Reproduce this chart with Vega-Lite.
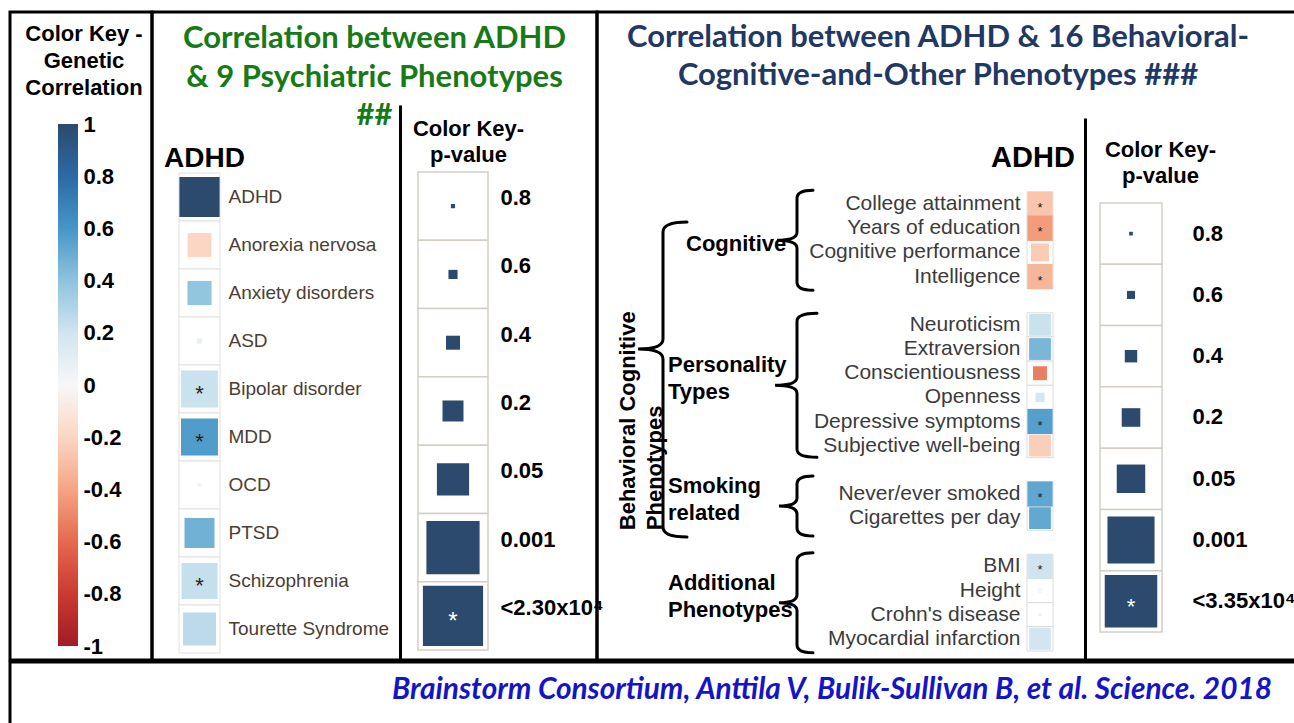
{
  "$schema": "https://vega.github.io/schema/vega-lite/v6.json",
  "padding": {"left": 8, "top": 10, "right": 0, "bottom": 0},
  "background": "white",
  "spacing": -3,
  "bounds": "full",
  "datasets": {
    "ckey": [{"low": -1, "high": 1}],
    "psych": [
      {"trait": "ADHD", "phenotype": "ADHD", "rg": 1, "p": 0, "sig": ""},
      {"trait": "ADHD", "phenotype": "Anorexia nervosa", "rg": -0.2, "p": 0.033, "sig": ""},
      {"trait": "ADHD", "phenotype": "Anxiety disorders", "rg": 0.39, "p": 0.032, "sig": ""},
      {"trait": "ADHD", "phenotype": "ASD", "rg": 0.08, "p": 0.6, "sig": ""},
      {"trait": "ADHD", "phenotype": "Bipolar disorder", "rg": 0.22, "p": 0.00014, "sig": "*"},
      {"trait": "ADHD", "phenotype": "MDD", "rg": 0.57, "p": 0.00014, "sig": "*"},
      {"trait": "ADHD", "phenotype": "OCD", "rg": 0.03, "p": 0.71, "sig": ""},
      {"trait": "ADHD", "phenotype": "PTSD", "rg": 0.48, "p": 0.0068, "sig": ""},
      {"trait": "ADHD", "phenotype": "Schizophrenia", "rg": 0.23, "p": 0.00019, "sig": "*"},
      {"trait": "ADHD", "phenotype": "Tourette Syndrome", "rg": 0.26, "p": 0.00067, "sig": ""}
    ],
    "behav": [
      {"trait": "ADHD", "phenotype": "College attainment", "category": "Cognitive", "rg": -0.27, "p": 0.00002, "sig": "*"},
      {"trait": "ADHD", "phenotype": "Years of education", "category": "Cognitive", "rg": -0.43, "p": 0.00001, "sig": "*"},
      {"trait": "ADHD", "phenotype": "Cognitive performance", "category": "Cognitive", "rg": -0.24, "p": 0.014, "sig": ""},
      {"trait": "ADHD", "phenotype": "Intelligence", "category": "Cognitive", "rg": -0.33, "p": 0.00002, "sig": "*"},
      {"trait": "ADHD", "phenotype": "Neuroticism", "category": "Personality Types", "rg": 0.22, "p": 0.0004, "sig": ""},
      {"trait": "ADHD", "phenotype": "Extraversion", "category": "Personality Types", "rg": 0.46, "p": 0.0004, "sig": ""},
      {"trait": "ADHD", "phenotype": "Conscientiousness", "category": "Personality Types", "rg": -0.53, "p": 0.04, "sig": ""},
      {"trait": "ADHD", "phenotype": "Openness", "category": "Personality Types", "rg": 0.18, "p": 0.16, "sig": ""},
      {"trait": "ADHD", "phenotype": "Depressive symptoms", "category": "Personality Types", "rg": 0.56, "p": 0.00002, "sig": "*"},
      {"trait": "ADHD", "phenotype": "Subjective well-being", "category": "Personality Types", "rg": -0.23, "p": 0.0004, "sig": ""},
      {"trait": "ADHD", "phenotype": "Never/ever smoked", "category": "Smoking related", "rg": 0.53, "p": 0.00002, "sig": "*"},
      {"trait": "ADHD", "phenotype": "Cigarettes per day", "category": "Smoking related", "rg": 0.52, "p": 0.0004, "sig": ""},
      {"trait": "ADHD", "phenotype": "BMI", "category": "Additional Phenotypes", "rg": 0.2, "p": 0.00002, "sig": "*"},
      {"trait": "ADHD", "phenotype": "Height", "category": "Additional Phenotypes", "rg": 0.02, "p": 0.45, "sig": ""},
      {"trait": "ADHD", "phenotype": "Crohn's disease", "category": "Additional Phenotypes", "rg": 0.05, "p": 0.6, "sig": ""},
      {"trait": "ADHD", "phenotype": "Myocardial infarction", "category": "Additional Phenotypes", "rg": 0.19, "p": 0.0004, "sig": ""}
    ],
    "groups": [
      {"group": "Cognitive", "label": ["Cognitive"], "level": "inner", "mid": "Years of education"},
      {"group": "Personality Types", "label": ["Personality", "Types"], "level": "inner", "mid": "Conscientiousness"},
      {"group": "Smoking related", "label": ["Smoking", "related"], "level": "inner", "mid": "Never/ever smoked"},
      {"group": "Additional Phenotypes", "label": ["Additional", "Phenotypes"], "level": "inner", "mid": "Height"}
    ],
    "outer": [
      {"group": "Behavioral Cognitive Phenotypes", "label": ["Behavioral Cognitive", "Phenotypes"], "level": "outer", "notch": "Extraversion", "end": "Cigarettes per day"}
    ],
    "pkeyB": [
      {"key": "p-value", "label": "0.8", "p": 0.8, "sig": ""},
      {"key": "p-value", "label": "0.6", "p": 0.6, "sig": ""},
      {"key": "p-value", "label": "0.4", "p": 0.4, "sig": ""},
      {"key": "p-value", "label": "0.2", "p": 0.2, "sig": ""},
      {"key": "p-value", "label": "0.05", "p": 0.05, "sig": ""},
      {"key": "p-value", "label": "0.001", "p": 0.001, "sig": ""},
      {"key": "p-value", "label": "<2.30x10⁴", "p": 0.00023, "sig": "*"}
    ],
    "pkeyC": [
      {"key": "p-value", "label": "0.8", "p": 0.8, "sig": ""},
      {"key": "p-value", "label": "0.6", "p": 0.6, "sig": ""},
      {"key": "p-value", "label": "0.4", "p": 0.4, "sig": ""},
      {"key": "p-value", "label": "0.2", "p": 0.2, "sig": ""},
      {"key": "p-value", "label": "0.05", "p": 0.05, "sig": ""},
      {"key": "p-value", "label": "0.001", "p": 0.001, "sig": ""},
      {"key": "p-value", "label": "<3.35x10⁴", "p": 0.000335, "sig": "*"}
    ],
    "cite": [
      {"source": "Brainstorm Consortium, Anttila V, Bulik-Sullivan B, et al. Science. 2018"}
    ]
  },
  "resolve": {"scale": {"size": "independent", "shape": "independent"}},
  "vconcat": [
    {
      "spacing": 0,
      "bounds": "flush",
      "resolve": {"scale": {"size": "independent", "shape": "independent"}},
      "hconcat": [
        {
          "width": 142,
          "height": 648,
          "title": {"text": ["Color Key -", "Genetic", "Correlation"], "frame": "group", "anchor": "middle", "orient": "top", "baseline": "bottom", "offset": -110, "fontSize": 22, "fontWeight": "bold", "lineHeight": 27, "color": "black", "font": "Liberation Sans", "dx": 3},
          "data": {"name": "ckey"},
          "mark": {"type": "rect", "color": {"gradient": "linear", "x1": 0, "y1": 0, "x2": 0, "y2": 1, "stops": [
            {"offset": 0, "color": "#2b4a6e"},
            {"offset": 0.1, "color": "#2c6aa6"},
            {"offset": 0.2, "color": "#4596c8"},
            {"offset": 0.3, "color": "#8fc3de"},
            {"offset": 0.4, "color": "#d0e4f0"},
            {"offset": 0.5, "color": "#f7f7f7"},
            {"offset": 0.6, "color": "#fbd6c3"},
            {"offset": 0.7, "color": "#f4a583"},
            {"offset": 0.8, "color": "#e5694d"},
            {"offset": 0.9, "color": "#cb3a31"},
            {"offset": 1, "color": "#a01c24"}
          ]}},
          "encoding": {
            "x": {"datum": "bar", "type": "nominal", "scale": {"range": [48, 68], "paddingInner": 0, "paddingOuter": 0}, "axis": null},
            "y": {"field": "low", "type": "quantitative", "scale": {"domain": [-1, 1], "range": [634, 112], "nice": false, "zero": false},
              "axis": {"orient": "left", "values": [1, 0.8, 0.6, 0.4, 0.2, 0, -0.2, -0.4, -0.6, -0.8, -1], "labelExpr": "toString(datum.value)", "labelAlign": "left", "labelPadding": -73, "labelFontSize": 22, "labelFontWeight": "bold", "labelColor": "black", "labelBaseline": "middle", "title": null}},
            "y2": {"field": "high"}
          }
        },
        {
          "width": 445,
          "height": 648,
          "title": {"text": ["Correlation between ADHD", "& 9 Psychiatric Phenotypes", "##"], "frame": "group", "anchor": "middle", "orient": "top", "baseline": "bottom", "offset": -151, "fontSize": 31, "fontWeight": "bold", "font": "Lato", "lineHeight": 38.5, "color": "#177a17"},
          "resolve": {"scale": {"x": "independent", "y": "independent", "size": "independent"}},
          "layer": [
            {
              "data": {"name": "psych"},
              "encoding": {
                "x": {"field": "trait", "type": "nominal", "scale": {"range": [27, 68], "paddingInner": 0, "paddingOuter": 0},
                  "axis": {"orient": "top", "labelPadding": -146, "labelBaseline": "middle", "labelFontSize": 28, "labelFontWeight": "bold", "labelColor": "black", "labelOffset": 5, "labelAngle": 0, "title": null}},
                "y": {"field": "phenotype", "type": "nominal", "sort": null,
                  "scale": {"domain": ["ADHD", "Anorexia nervosa", "Anxiety disorders", "ASD", "Bipolar disorder", "MDD", "OCD", "PTSD", "Schizophrenia", "Tourette Syndrome"], "range": [161, 641], "paddingInner": 0, "paddingOuter": 0},
                  "axis": {"orient": "right", "offset": -369, "labelAlign": "left", "labelPadding": 0, "labelFontSize": 19, "labelColor": "#4b3e33", "labelBaseline": "middle", "title": null}}
              },
              "layer": [
                {"mark": {"type": "rect", "fill": "white", "stroke": "#e0e0e0", "strokeWidth": 1}},
                {"mark": {"type": "point", "shape": "square", "filled": true, "opacity": 1, "strokeWidth": 0},
                  "encoding": {
                    "color": {"field": "rg", "type": "quantitative", "legend": null, "scale": {"type": "linear", "interpolate": "rgb", "domain": [-1, -0.8, -0.6, -0.4, -0.2, 0, 0.2, 0.4, 0.6, 0.8, 1], "range": ["#a01c24", "#cb3a31", "#e5694d", "#f4a583", "#fbd6c3", "#f7f7f7", "#d0e4f0", "#8fc3de", "#4596c8", "#2c6aa6", "#2b4a6e"]}},
                    "size": {"field": "p", "type": "quantitative", "legend": null, "scale": {"type": "linear", "domain": [0, 0.0001, 0.00023, 0.001, 0.05, 0.2, 0.4, 0.6, 0.8, 1], "range": [1616, 1421, 1246, 973, 357, 151, 67, 28, 6, 1.5]}}
                  }},
                {"mark": {"type": "text", "fontSize": 22, "color": "#2a2118", "dy": 5}, "encoding": {"text": {"field": "sig"}}}
              ]
            },
            {
              "data": {"name": "pkeyB"},
              "encoding": {
                "x": {"field": "key", "type": "nominal", "scale": {"range": [266, 336], "paddingInner": 0, "paddingOuter": 0},
                  "axis": {"orient": "top", "labels": false, "title": ["Color Key-", "p-value"], "titleFontSize": 22, "titleFontWeight": "bold", "titleColor": "black", "titleX": 316, "titleY": 106, "titleBaseline": "top", "titleAlign": "center", "titleLineHeight": 26}},
                "y": {"field": "label", "type": "nominal", "sort": null,
                  "scale": {"domain": ["0.8", "0.6", "0.4", "0.2", "0.05", "0.001", "<2.30x10⁴"], "range": [93, 648], "paddingInner": 0, "paddingOuter": 0.5638, "align": 0.87},
                  "axis": {"orient": "left", "offset": -248, "domain": true, "domainColor": "black", "domainWidth": 3, "labelAlign": "left", "labelPadding": -100, "labelOffset": -8, "labelFontSize": 22, "labelFontWeight": "bold", "labelColor": "black", "labelBaseline": "middle", "title": null}}
              },
              "layer": [
                {"mark": {"type": "rect", "fill": "white", "stroke": "#d3cec6", "strokeWidth": 1.5}},
                {"mark": {"type": "point", "shape": "square", "filled": true, "opacity": 1, "color": "#2c4a6e", "strokeWidth": 0},
                  "encoding": {"size": {"field": "p", "type": "quantitative", "legend": null, "scale": {"type": "linear", "domain": [0, 0.0001, 0.00023, 0.001, 0.05, 0.2, 0.4, 0.6, 0.8, 1], "range": [4706, 4147, 3624, 2830, 1037, 441, 196, 83, 17.6, 4.4]}}}},
                {"mark": {"type": "text", "fontSize": 24, "color": "white", "dy": 6}, "encoding": {"text": {"field": "sig"}}}
              ]
            }
          ]
        },
        {
          "width": 700,
          "height": 648,
          "title": {"text": ["Correlation between ADHD & 16 Behavioral-", "Cognitive-and-Other Phenotypes ###"], "frame": "group", "anchor": "middle", "orient": "top", "baseline": "bottom", "offset": -111, "fontSize": 31, "fontWeight": "bold", "font": "Lato", "lineHeight": 38.5, "color": "#1f3864", "dx": -9},
          "resolve": {"scale": {"x": "independent", "y": "independent", "size": "independent"}},
          "layer": [
            {
              "resolve": {"scale": {"x": "independent", "y": "shared"}},
              "layer": [
                {
                  "data": {"name": "behav"},
                  "encoding": {
                    "x": {"field": "trait", "type": "nominal", "scale": {"range": [430, 456], "paddingInner": 0, "paddingOuter": 0},
                      "axis": {"orient": "top", "labelPadding": -145, "labelBaseline": "middle", "labelFontSize": 29, "labelFontWeight": "bold", "labelColor": "black", "labelOffset": -7, "labelAngle": 0, "title": null}},
                    "y": {"field": "phenotype", "type": "nominal", "sort": null,
                      "scale": {"domain": ["College attainment", "Years of education", "Cognitive performance", "Intelligence", " ", "Neuroticism", "Extraversion", "Conscientiousness", "Openness", "Depressive symptoms", "Subjective well-being", "  ", "Never/ever smoked", "Cigarettes per day", "   ", "BMI", "Height", "Crohn's disease", "Myocardial infarction"], "range": [180, 639], "paddingInner": 0, "paddingOuter": 0},
                      "axis": {"orient": "right", "offset": -275, "labelAlign": "right", "labelPadding": -2, "labelFontSize": 21, "labelColor": "#3b3b3b", "labelBaseline": "middle", "title": null}}
                  },
                  "layer": [
                    {"mark": {"type": "rect", "fill": "white", "stroke": "#dcdcdc", "strokeWidth": 1}},
                    {"mark": {"type": "point", "shape": "square", "filled": true, "opacity": 1, "strokeWidth": 0},
                      "encoding": {
                        "color": {"field": "rg", "type": "quantitative", "legend": null, "scale": {"type": "linear", "interpolate": "rgb", "domain": [-1, -0.8, -0.6, -0.4, -0.2, 0, 0.2, 0.4, 0.6, 0.8, 1], "range": ["#a01c24", "#cb3a31", "#e5694d", "#f4a583", "#fbd6c3", "#f7f7f7", "#d0e4f0", "#8fc3de", "#4596c8", "#2c6aa6", "#2b4a6e"]}},
                        "size": {"field": "p", "type": "quantitative", "legend": null, "scale": {"type": "linear", "domain": [0, 0.0001, 0.00023, 0.001, 0.05, 0.2, 0.4, 0.6, 0.8, 1], "range": [649, 572, 500, 390, 143, 61, 27, 11.4, 2.4, 0.6]}}
                      }},
                    {"mark": {"type": "text", "fontSize": 13, "color": "#1a1a1a", "dy": 4}, "encoding": {"text": {"field": "sig"}}}
                  ]
                },
                {
                  "layer": [
                    {
                      "data": {"name": "groups"},
                      "mark": {"type": "point", "filled": false, "stroke": "black", "strokeWidth": 3, "size": 4, "opacity": 1, "strokeCap": "round"},
                      "encoding": {
                        "x": {"field": "level", "type": "nominal", "scale": {"domain": ["outer", "inner"], "range": [66, 200], "padding": 0}, "axis": null},
                        "y": {"field": "mid", "type": "nominal", "bandPosition": 1, "axis": {"title": null}},
                        "shape": {"field": "group", "type": "nominal", "legend": null, "scale": {"domain": ["Cognitive", "Personality Types", "Smoking related", "Additional Phenotypes", "Behavioral Cognitive Phenotypes"], "range": [
                          "M16,-50Q0,-50 0,-42L0,-8Q0,0 -20,0Q0,0 0,8L0,42Q0,50 16,50",
                          "M20,-72Q0,-72 0,-64L0,-8Q0,0 -22,0Q0,0 0,8L0,64Q0,72 20,72",
                          "M16,-30Q0,-30 0,-22L0,-8Q0,0 -18,0Q0,0 0,8L0,22Q0,30 16,30",
                          "M16,-50Q0,-50 0,-42L0,-8Q0,0 -18,0Q0,0 0,8L0,42Q0,50 16,50",
                          "M24,-127Q0,-127 0,-117L0,-10Q0,0 -25,0Q0,0 0,10L0,178Q0,188 24,188"
                        ]}}
                      }
                    },
                    {
                      "data": {"name": "outer"},
                      "mark": {"type": "point", "filled": false, "stroke": "black", "strokeWidth": 3, "size": 4, "opacity": 1, "strokeCap": "round"},
                      "encoding": {
                        "x": {"field": "level", "type": "nominal", "axis": null},
                        "y": {"field": "notch", "type": "nominal", "axis": {"title": null}},
                        "shape": {"field": "group", "type": "nominal", "legend": null}
                      }
                    },
                    {
                      "data": {"name": "groups"},
                      "transform": [{"filter": "length(datum.label) == 1"}],
                      "mark": {"type": "text", "align": "left", "baseline": "middle", "dx": -111, "dy": 4, "fontSize": 22, "fontWeight": "bold", "lineHeight": 27, "color": "black"},
                      "encoding": {
                        "x": {"field": "level", "type": "nominal", "axis": null},
                        "y": {"field": "mid", "type": "nominal", "bandPosition": 1, "axis": {"title": null}},
                        "text": {"field": "label"}
                      }
                    },
                    {
                      "data": {"name": "groups"},
                      "transform": [{"filter": "length(datum.label) > 1"}],
                      "mark": {"type": "text", "align": "left", "baseline": "middle", "dx": -129, "dy": -20, "fontSize": 22, "fontWeight": "bold", "lineHeight": 27, "color": "black"},
                      "encoding": {
                        "x": {"field": "level", "type": "nominal", "axis": null},
                        "y": {"field": "mid", "type": "nominal", "bandPosition": 1, "axis": {"title": null}},
                        "text": {"field": "label"}
                      }
                    },
                    {
                      "data": {"name": "outer"},
                      "mark": {"type": "text", "align": "left", "baseline": "middle", "angle": 270, "dy": -35, "fontSize": 22, "fontWeight": "bold", "lineHeight": 27, "color": "black"},
                      "encoding": {
                        "x": {"field": "level", "type": "nominal", "axis": null},
                        "y": {"field": "end", "type": "nominal", "bandPosition": 1, "axis": {"title": null}},
                        "text": {"field": "label"}
                      }
                    }
                  ]
                }
              ]
            },
            {
              "data": {"name": "pkeyC"},
              "encoding": {
                "x": {"field": "key", "type": "nominal", "scale": {"range": [503, 565], "paddingInner": 0, "paddingOuter": 0},
                  "axis": {"orient": "top", "labels": false, "title": ["Color Key-", "p-value"], "titleFontSize": 22, "titleFontWeight": "bold", "titleColor": "black", "titleX": 563, "titleY": 127, "titleBaseline": "top", "titleAlign": "center", "titleLineHeight": 26}},
                "y": {"field": "label", "type": "nominal", "sort": null,
                  "scale": {"domain": ["0.8", "0.6", "0.4", "0.2", "0.05", "0.001", "<3.35x10⁴"], "range": [106, 648], "paddingInner": 0, "paddingOuter": 0.9218, "align": 0.7522},
                  "axis": {"orient": "left", "offset": -488, "domain": true, "domainColor": "black", "domainWidth": 3, "labelAlign": "left", "labelPadding": -107, "labelFontSize": 22, "labelFontWeight": "bold", "labelColor": "black", "labelBaseline": "middle", "title": null}}
              },
              "layer": [
                {"mark": {"type": "rect", "fill": "white", "stroke": "#d3cec6", "strokeWidth": 1.5}},
                {"mark": {"type": "point", "shape": "square", "filled": true, "opacity": 1, "color": "#2c4a6e", "strokeWidth": 0},
                  "encoding": {"size": {"field": "p", "type": "quantitative", "legend": null, "scale": {"type": "linear", "domain": [0, 0.0001, 0.00023, 0.001, 0.05, 0.2, 0.4, 0.6, 0.8, 1], "range": [3692, 3249, 2841, 2218, 812, 346, 154, 65, 13.7, 3.5]}}}},
                {"mark": {"type": "text", "fontSize": 22, "color": "white", "dy": 6}, "encoding": {"text": {"field": "sig"}}}
              ]
            }
          ]
        }
      ]
    },
    {
      "width": 1287,
      "height": 66,
      "data": {"name": "cite"},
      "mark": {"type": "text", "align": "right", "baseline": "alphabetic", "font": "Lato", "fontSize": 29.8, "fontWeight": "bold", "fontStyle": "italic", "color": "#1414c8"},
      "encoding": {
        "text": {"field": "source"},
        "x": {"field": "source", "type": "nominal", "scale": {"align": 0.98057, "padding": 0.5}, "axis": null},
        "y": {"field": "source", "type": "nominal", "scale": {"align": 0.5606, "padding": 0.5}, "axis": null}
      }
    }
  ],
  "config": {
    "view": {"stroke": "black", "strokeWidth": 3},
    "font": "Liberation Sans",
    "axis": {"grid": false, "ticks": false, "tickSize": 0, "domain": false, "labelLimit": 600, "labelOverlap": false}
  }
}
